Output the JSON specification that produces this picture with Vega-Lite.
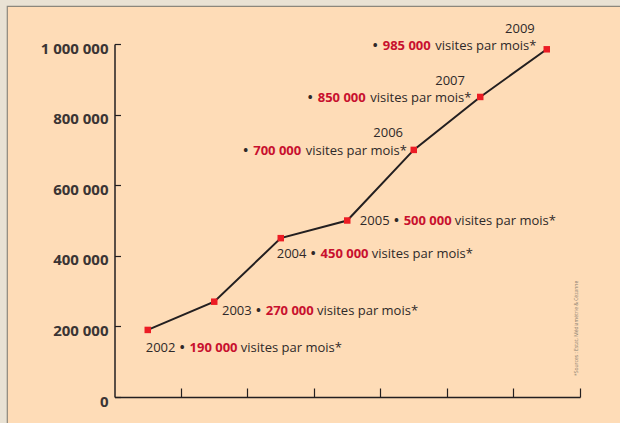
{
  "$schema": "https://vega.github.io/schema/vega-lite/v6.json",
  "width": 614,
  "height": 418,
  "autosize": {"type": "none"},
  "padding": {"left": 7, "top": 6, "right": 0, "bottom": 0},
  "background": "#e9e2d4",
  "config": {
    "view": {"fill": "#fedcb7", "stroke": "#8c877c", "strokeWidth": 1.2},
    "locale": {"number": {"decimal": ",", "thousands": " ", "grouping": [3], "currency": ["", " €"]}},
    "text": {"font": "Open Sans", "fontSize": 13, "baseline": "middle", "align": "left", "color": "#2e2929"}
  },
  "data": {"values": [
    {"year": "2002", "visits": 190000},
    {"year": "2003", "visits": 270000},
    {"year": "2004", "visits": 450000},
    {"year": "2005", "visits": 500000},
    {"year": "2006", "visits": 700000},
    {"year": "2007", "visits": 850000},
    {"year": "2009", "visits": 985000}
  ]},
  "encoding": {
    "x": {
      "field": "year", "type": "ordinal", "bandPosition": 0.5,
      "scale": {"type": "band", "paddingInner": 0, "paddingOuter": 0, "range": [107.5, 573]},
      "axis": {"title": null, "labels": false, "bandPosition": 1, "tickSize": -9, "tickColor": "#231f20", "tickWidth": 1.2, "domainColor": "#231f20", "domainWidth": 1.5, "offset": -27, "grid": false}
    },
    "y": {
      "field": "visits", "type": "quantitative",
      "scale": {"domain": [0, 1000000], "range": [391, 38], "nice": false},
      "axis": {"title": null, "values": [0, 200000, 400000, 600000, 800000, 1000000], "format": ",d", "offset": -107.5, "grid": false, "domainColor": "#231f20", "domainWidth": 1.5, "tickColor": "#231f20", "tickSize": -6, "tickWidth": 1.2, "labelFont": "Open Sans", "labelFontWeight": "bold", "labelFontSize": 15, "labelColor": "#3a3434", "labelPadding": 12.5, "labelOffset": 4}
    }
  },
  "layer": [
    {"mark": {"type": "line", "color": "#231f20", "strokeWidth": 2}, "encoding": {}},
    {"mark": {"type": "square", "size": 42, "color": "#ec1c24", "filled": true, "opacity": 1}},
    {"transform": [{"filter": "datum.year === '2002'"}], "layer": [
      {"mark": {"type": "text", "dx": -2, "dy": 18.4}, "encoding": {"text": {"field": "year"}}},
      {"mark": {"type": "text", "dx": 34.5, "dy": 18.4, "align": "center", "fontWeight": "bold"}, "encoding": {"text": {"value": "•"}}},
      {"mark": {"type": "text", "dx": 41.8, "dy": 18.4, "fontWeight": "bold", "color": "#c8102e"}, "encoding": {"text": {"field": "visits", "type": "quantitative", "format": ",d"}}},
      {"mark": {"type": "text", "dx": 93, "dy": 18.4}, "encoding": {"text": {"value": "visites par mois*"}}}
    ]},
    {"transform": [{"filter": "datum.year === '2003'"}], "layer": [
      {"mark": {"type": "text", "dx": 7.7, "dy": 9}, "encoding": {"text": {"field": "year"}}},
      {"mark": {"type": "text", "dx": 44.2, "dy": 9, "align": "center", "fontWeight": "bold"}, "encoding": {"text": {"value": "•"}}},
      {"mark": {"type": "text", "dx": 51.5, "dy": 9, "fontWeight": "bold", "color": "#c8102e"}, "encoding": {"text": {"field": "visits", "type": "quantitative", "format": ",d"}}},
      {"mark": {"type": "text", "dx": 102.7, "dy": 9}, "encoding": {"text": {"value": "visites par mois*"}}}
    ]},
    {"transform": [{"filter": "datum.year === '2004'"}], "layer": [
      {"mark": {"type": "text", "dx": -4, "dy": 16}, "encoding": {"text": {"field": "year"}}},
      {"mark": {"type": "text", "dx": 32.5, "dy": 16, "align": "center", "fontWeight": "bold"}, "encoding": {"text": {"value": "•"}}},
      {"mark": {"type": "text", "dx": 39.8, "dy": 16, "fontWeight": "bold", "color": "#c8102e"}, "encoding": {"text": {"field": "visits", "type": "quantitative", "format": ",d"}}},
      {"mark": {"type": "text", "dx": 91, "dy": 16}, "encoding": {"text": {"value": "visites par mois*"}}}
    ]},
    {"transform": [{"filter": "datum.year === '2005'"}], "layer": [
      {"mark": {"type": "text", "dx": 12.6, "dy": 0.2}, "encoding": {"text": {"field": "year"}}},
      {"mark": {"type": "text", "dx": 49.1, "dy": 0.2, "align": "center", "fontWeight": "bold"}, "encoding": {"text": {"value": "•"}}},
      {"mark": {"type": "text", "dx": 56.4, "dy": 0.2, "fontWeight": "bold", "color": "#c8102e"}, "encoding": {"text": {"field": "visits", "type": "quantitative", "format": ",d"}}},
      {"mark": {"type": "text", "dx": 107.6, "dy": 0.2}, "encoding": {"text": {"value": "visites par mois*"}}}
    ]},
    {"transform": [{"filter": "datum.year === '2006'"}], "layer": [
      {"mark": {"type": "text", "dx": -10.7, "dy": -17, "align": "right"}, "encoding": {"text": {"field": "year"}}},
      {"mark": {"type": "text", "dx": -168, "dy": 1, "align": "center", "fontWeight": "bold"}, "encoding": {"text": {"value": "•"}}},
      {"mark": {"type": "text", "dx": -160.5, "dy": 1, "fontWeight": "bold", "color": "#c8102e"}, "encoding": {"text": {"field": "visits", "type": "quantitative", "format": ",d"}}},
      {"mark": {"type": "text", "dx": -108, "dy": 1}, "encoding": {"text": {"value": "visites par mois*"}}}
    ]},
    {"transform": [{"filter": "datum.year === '2007'"}], "layer": [
      {"mark": {"type": "text", "dx": -15.3, "dy": -16, "align": "right"}, "encoding": {"text": {"field": "year"}}},
      {"mark": {"type": "text", "dx": -170, "dy": 1.5, "align": "center", "fontWeight": "bold"}, "encoding": {"text": {"value": "•"}}},
      {"mark": {"type": "text", "dx": -162.5, "dy": 1.5, "fontWeight": "bold", "color": "#c8102e"}, "encoding": {"text": {"field": "visits", "type": "quantitative", "format": ",d"}}},
      {"mark": {"type": "text", "dx": -110, "dy": 1.5}, "encoding": {"text": {"value": "visites par mois*"}}}
    ]},
    {"transform": [{"filter": "datum.year === '2009'"}], "layer": [
      {"mark": {"type": "text", "dx": -12, "dy": -20, "align": "right"}, "encoding": {"text": {"field": "year"}}},
      {"mark": {"type": "text", "dx": -171.5, "dy": -3.5, "align": "center", "fontWeight": "bold"}, "encoding": {"text": {"value": "•"}}},
      {"mark": {"type": "text", "dx": -164, "dy": -3.5, "fontWeight": "bold", "color": "#c8102e"}, "encoding": {"text": {"field": "visits", "type": "quantitative", "format": ",d"}}},
      {"mark": {"type": "text", "dx": -111.5, "dy": -3.5}, "encoding": {"text": {"value": "visites par mois*"}}},
      {"mark": {"type": "text", "angle": 270, "align": "left", "baseline": "middle", "fontSize": 5, "color": "#8a8070", "dx": 21, "dy": 29}, "encoding": {"y": {"datum": 0, "type": "quantitative"}, "text": {"value": "*Sources : Estat, Médiamétrie & Cézanne"}}}
    ]}
  ]
}
